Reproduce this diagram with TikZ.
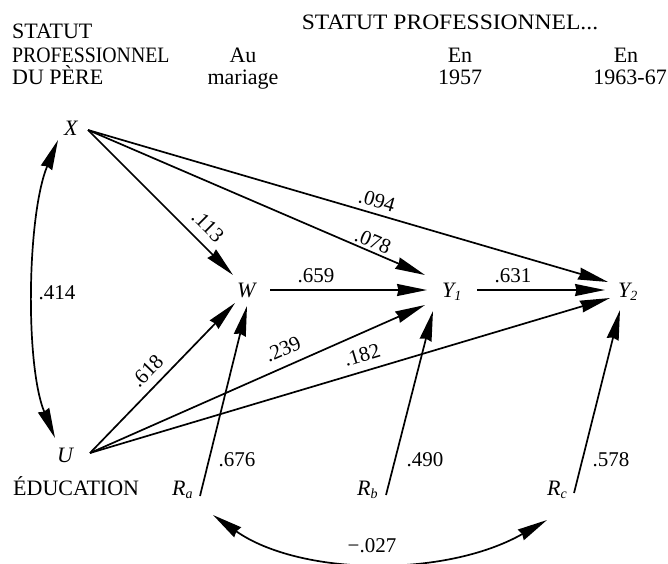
\documentclass[tikz,border=0pt]{standalone}
\usepackage{fontspec}
\setmainfont{Liberation Serif}
\usetikzlibrary{arrows.meta,calc}
\newcommand\sbs[1]{\raisebox{-0.35ex}{\fontsize{14}{14}\selectfont\itshape #1}}
\begin{document}
\begin{tikzpicture}[x=1pt,y=-1pt,
  txt/.style={inner sep=0pt, font=\fontsize{22}{24}\selectfont},
  var/.style={inner sep=0pt, font=\fontsize{22}{24}\selectfont\itshape, anchor=base west},
  lab/.style={inner sep=0pt, font=\fontsize{21}{24}\selectfont},
  arr/.style={line width=1.7pt, -{Stealth[length=30pt,width=12pt,inset=1.5pt]}},
  darr/.style={line width=1.7pt, {Stealth[length=30pt,width=12pt,inset=1.5pt]}-{Stealth[length=30pt,width=12pt,inset=1.5pt]}}
]
\useasboundingbox (0,0) rectangle (668,563);
% header
\node[txt,anchor=base west] (h1) at (12,38) {STATUT};
\node[txt,anchor=base west] (h2) at (12,62) {\scalebox{0.9}[1]{PROFESSIONNEL}};
\node[txt,anchor=base west] (h3) at (12,84) {DU PÈRE};
\node[txt,anchor=base] (hd) at (450,29) {\scalebox{1.07}[1]{STATUT PROFESSIONNEL...}};
\node[txt,anchor=base] (au) at (243,62) {Au};
\node[txt,anchor=base] (mar) at (243,84) {mariage};
\node[txt,anchor=base] (en1) at (460,62) {En};
\node[txt,anchor=base] (y57) at (460,84) {1957};
\node[txt,anchor=base] (en2) at (626,62) {En};
\node[txt,anchor=base east] (y63) at (667,84) {1963-67};
% variables
\node[var] (X) at (64,135) {X};
\node[var] (W) at (237,297) {W};
\node[var] (Y1) at (442,297) {Y\sbs{1}};
\node[var] (Y2) at (618,297) {Y\sbs{2}};
\node[var] (U) at (57,462) {U};
\node[txt,anchor=base west] (edu) at (13,495) {ÉDUCATION};
\node[var] (Ra) at (172,495) {R\sbs{a}};
\node[var] (Rb) at (357,495) {R\sbs{b}};
\node[var] (Rc) at (547,495) {R\sbs{c}};
% arrows from X
\draw[arr] ($(X.base west)+(24,-5)$) -- ($(W.base west)+(-4,-22)$);
\draw[arr] ($(X.base west)+(24,-5)$) -- ($(Y1.base west)+(-17,-22)$);
\draw[arr] ($(X.base west)+(24,-5)$) -- ($(Y2.base west)+(-10,-15)$);
% W -> Y1 -> Y2
\draw[arr] ($(W.base west)+(33,-7)$) -- ($(Y1.base west)+(-15,-7)$);
\draw[arr] ($(Y1.base west)+(35,-7)$) -- ($(Y2.base west)+(-13,-7)$);
% arrows from U
\draw[arr] ($(U.base west)+(33,-9)$) -- ($(W.base west)+(-2,6)$);
\draw[arr] ($(U.base west)+(33,-9)$) -- ($(Y1.base west)+(-17,8)$);
\draw[arr] ($(U.base west)+(33,-9)$) -- ($(Y2.base west)+(-8,1)$);
% residuals
\draw[arr] ($(Ra.base west)+(28,1)$) -- ($(W.base west)+(10,9)$);
\draw[arr] ($(Rb.base west)+(29,0)$) -- ($(Y1.base west)+(-9,14)$);
\draw[arr] ($(Rc.base west)+(27,-2)$) -- ($(Y2.base west)+(2,13)$);
% correlations
\draw[darr] ($(X.base west)+(-6,5)$) .. controls (27,215) and (25,365) .. ($(U.base west)+(-2,-24)$);
\draw[darr] ($(Ra.base west)+(41,20)$) .. controls (300,576) and (445,578) .. ($(Rc.base west)+(0,25)$);
% labels
\node[lab,rotate=-45] (l113) at (208,226) {.113};
\node[lab,rotate=-23] (l078) at (373,241) {.078};
\node[lab,rotate=-16] (l094) at (377,201) {.094};
\node[lab] (l659) at (316,276) {.659};
\node[lab] (l631) at (513,276) {.631};
\node[lab] (l414) at (57,293) {.414};
\node[lab,rotate=46] (l618) at (147,371) {.618};
\node[lab,rotate=24] (l239) at (283,349) {.239};
\node[lab,rotate=17] (l182) at (362,355) {.182};
\node[lab] (l676) at (237,460) {.676};
\node[lab] (l490) at (425,460) {.490};
\node[lab] (l578) at (611,460) {.578};
\node[lab] (l027) at (372,546) {−.027};
\end{tikzpicture}
\end{document}
